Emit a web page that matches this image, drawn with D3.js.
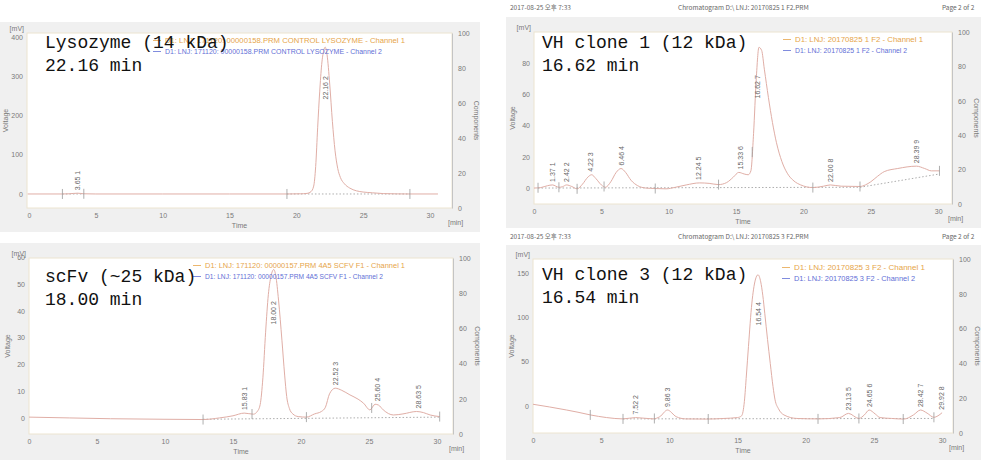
<!DOCTYPE html>
<html><head><meta charset="utf-8">
<script src="https://cdn.jsdelivr.net/npm/d3@7"></script>
<style>body{margin:0;background:#fff}svg{display:block}</style>
</head><body>
<svg id="c" width="987" height="460"></svg>
<script>
// ---------------- DATA ----------------
const timeTicks = [0, 5, 10, 15, 20, 25, 30];
const componentTicks = [0, 20, 40, 60, 80, 100];

// [time (min), voltage (mV)]
const lysozymeTrace = [[-0.1,0],[2.5,0],[3.0,0.5],[3.65,2],[4.1,0.5],[5,0],[10,0],[15,0],[19.3,0],[20.3,0.5],[20.8,1.5],[21.1,6],[21.3,20],[21.45,70],[21.6,170],[21.75,260],[21.9,330],[22.05,365],[22.16,374],[22.3,355],[22.5,280],[22.7,185],[22.9,110],[23.1,65],[23.3,42],[23.6,26],[24.0,15],[24.5,8],[25.0,5],[25.7,3],[26.5,1],[27.5,0.3],[28.5,0],[30.6,0]];
const vh1Trace = [[0,0],[0.5,0.3],[1.0,1.5],[1.37,2],[1.85,0.5],[2.1,0.8],[2.42,2],[2.8,1],[3.2,-0.5],[3.6,2.5],[4.0,7],[4.28,8.5],[4.6,6],[5.0,2],[5.3,0.5],[5.7,4],[6.1,10],[6.46,12.5],[6.8,10],[7.2,5],[7.7,1.5],[8.3,0],[9.0,-0.3],[9.8,-0.5],[10.5,0.5],[11.3,2],[12.3,3.3],[13.0,3],[13.7,2.2],[14.3,3.5],[14.8,7],[15.2,10],[15.6,9],[15.9,8.5],[16.1,11],[16.3,35],[16.5,70],[16.7,90],[16.9,88],[17.1,76],[17.4,58],[17.7,42],[18.0,29],[18.4,17],[18.8,9.5],[19.3,4.5],[19.8,2],[20.7,0.3],[21.5,1.2],[22.0,2],[22.8,1.2],[24.2,1],[24.6,2],[25.0,4],[25.5,7.5],[26.0,10.5],[27.0,12.5],[28.39,14],[29.0,12.5],[29.5,11],[30.1,11]];
const scfvTrace = [[0,0.3],[3,0],[6,-0.3],[10,-0.5],[12.8,-0.6],[14,0],[15,0.8],[15.83,1.8],[16.5,1.4],[16.8,2.5],[17.0,5],[17.2,15],[17.4,32],[17.6,46],[17.8,53],[18.0,55.4],[18.15,53],[18.35,44],[18.6,29],[18.8,16],[18.95,8],[19.15,3.5],[19.4,1.5],[19.8,0.5],[20.4,0.3],[21.0,1.5],[21.5,2.4],[21.8,4],[22.1,9],[22.52,11.1],[23.0,10.3],[23.6,8.6],[24.2,7],[24.6,5.5],[25.07,3],[25.45,5.1],[25.7,4.8],[26.05,3],[26.8,1.1],[27.5,1.5],[28.5,2.4],[29.0,2],[29.5,1.1],[30.2,0.5]];
const vh3Trace = [[0,2],[1.2,-1],[2.47,-4.5],[3.3,-7],[4.2,-10],[5.4,-13],[6.6,-14.5],[7.52,-13],[8.8,-14.5],[9.3,-12],[9.86,-4.5],[10.5,-12],[11.2,-14.5],[12.7,-14.7],[14.0,-14],[15.0,-13],[15.3,-11],[15.5,5],[15.65,35],[15.8,67],[16.05,116],[16.3,142],[16.5,148],[16.7,140],[16.85,125],[17.0,104],[17.2,75],[17.4,48],[17.6,22],[17.75,7],[18.0,-3],[18.4,-10],[19.35,-14],[20.9,-14.5],[22.5,-13],[23.13,-8.3],[23.9,-14],[24.3,-10],[24.65,-4.5],[25.1,-9],[25.45,-13],[26.3,-14],[27.2,-14.7],[27.9,-10],[28.42,-4.5],[28.9,-8],[29.4,-12.7],[29.7,-11],[30.0,-7.5]];

// peaks: [retention time, peak number]
const lysozymePeaks = [[3.65,1],[22.16,2]];
const vh1Peaks = [[1.37,1],[2.42,2],[4.22,3],[6.46,4],[12.24,5],[15.33,6],[16.62,7],[22.00,8],[28.39,9]];
const scfvPeaks = [[15.83,1],[18.00,2],[22.52,3],[25.60,4],[28.63,5]];
const vh3Peaks = [[7.52,2],[9.86,3],[16.54,4],[23.13,5],[24.65,6],[28.42,7],[29.92,8]];

// integration marks (min) and baselines
const lysozymeMarks = [2.5,4.1,19.3,28.5];
const vh1Marks = [0.3,1.85,3.2,5.2,9.0,13.7,16.2,20.7,24.2,30.1];
const scfvMarks = [12.8,16.4,20.4,25.2,30.2];
const vh3Marks = [4.2,6.6,8.9,12.85,20.9,23.9,27.15,29.4];
const lysozymeBaselines = [[[2.5,0],[4.1,0]],[[19.3,0],[28.5,0]]];
const vh1Baselines = [[[0.3,0],[24.2,0.5],[30.1,9]]];
const scfvBaselines = [[[12.8,-0.5],[30.2,0.3]]];
const vh3Baselines = [[[6.6,-14.5],[29.4,-14]]];

// tick labels of the voltage axes
const lysozymeVoltTicks = [0,100,200,300,400];
const vh1VoltTicks = [0,20,40,60,80];
const scfvVoltTicks = [0,10,20,30,40,50,60];
const vh3VoltTicks = [0,50,100,150];

// texts
const titles = [["Lysozyme (14 kDa)","22.16 min"],["VH clone 1 (12 kDa)","16.62 min"],["scFv (~25 kDa)","18.00 min"],["VH clone 3 (12 kDa)","16.54 min"]];
const legends = [
  ["D1:  LNJ:  171120:  00000158.PRM CONTROL LYSOZYME  -  Channel 1","D1: LNJ: 171120: 00000158.PRM CONTROL LYSOZYME - Channel 2"],
  ["D1:  LNJ:  20170825 1 F2  -  Channel 1","D1: LNJ: 20170825 1 F2 - Channel 2"],
  ["D1:  LNJ:  171120:  00000157.PRM 4A5 SCFV F1  -  Channel 1","D1: LNJ: 171120: 00000157.PRM 4A5 SCFV F1 - Channel 2"],
  ["D1:  LNJ:  20170825 3 F2  -  Channel 1","D1: LNJ: 20170825 3 F2 - Channel 2"]
];
const headers = [null,["2017-08-25 오후 7:33","Chromatogram D:\\ LNJ: 20170825 1 F2.PRM","Page 2 of 2"],null,["2017-08-25 오후 7:33","Chromatogram D:\\ LNJ: 20170825 3 F2.PRM","Page 2 of 2"]];

// ---------------- LAYOUT ----------------
const panels = [
  {trace:lysozymeTrace, peaks:lysozymePeaks, marks:lysozymeMarks, bases:lysozymeBaselines, vt:lysozymeVoltTicks,
   box:[0,22,480,232], plot:[27,452,33,208], xd:[-0.15,31.65], yd:[-35.7,410], title:[45,48], leg:[153,43,405,382]},
  {trace:vh1Trace, peaks:vh1Peaks, marks:vh1Marks, bases:vh1Baselines, vt:vh1VoltTicks,
   box:[506,17,981,228], plot:[534,952,32,204], xd:[0,31.03], yd:[-10.2,99.8], title:[542,48], leg:[783,42,923,907], head:[510,8,678,942]},
  {trace:scfvTrace, peaks:scfvPeaks, marks:scfvMarks, bases:scfvBaselines, vt:scfvVoltTicks,
   box:[0,243,480,460], plot:[29,453,258,434], xd:[0,31.18], yd:[-6,59.7], title:[45,282], leg:[193,268,405,383]},
  {trace:vh3Trace, peaks:vh3Peaks, marks:vh3Marks, bases:vh3Baselines, vt:vh3VoltTicks,
   box:[506,245,981,460], plot:[533,953,259,433], xd:[0,30.8], yd:[-30.4,165.8], title:[542,280], leg:[782,270,925,915], head:[510,237,678,942]}
];

const svg = d3.select('#c');
const sans = "'Liberation Sans', Arial, sans-serif";
const axisColor = '#7a7a7a';

function interp(trace, t) {
  const i = d3.bisector(d => d[0]).left(trace, t);
  if (i <= 0) return trace[0][1];
  if (i >= trace.length) return trace[trace.length-1][1];
  const a = trace[i-1], b = trace[i];
  return a[1] + (b[1]-a[1]) * (t-a[0])/(b[0]-a[0]);
}

panels.forEach((p, k) => {
  const g = svg.append('g');
  const [x0,x1,y0,y1] = p.plot;
  g.append('rect').attr('x',p.box[0]).attr('y',p.box[1]).attr('width',p.box[2]-p.box[0]).attr('height',p.box[3]-p.box[1]).attr('fill','#f0f0f0');
  g.append('rect').attr('x',x0).attr('y',y0).attr('width',x1-x0).attr('height',y1-y0).attr('fill','#fff').attr('stroke','#ece4d0').attr('stroke-width',1);

  const x = d3.scaleLinear().domain(p.xd).range([x0,x1]);
  const y = d3.scaleLinear().domain(p.yd).range([y1,y0]);
  const yr = d3.scaleLinear().domain([0,100]).range([y1,y0]);

  const styleAxis = sel => {
    sel.selectAll('text').attr('fill',axisColor).style('font-size','7px').style('font-family',sans);
    sel.attr('font-size',null).attr('font-family',null);
  };
  const gx = g.append('g').attr('transform',`translate(0,${y1})`)
    .call(d3.axisBottom(x).tickValues(timeTicks).tickSize(0).tickPadding(5));
  gx.select('.domain').remove(); styleAxis(gx);
  const gl = g.append('g').attr('transform',`translate(${x0},0)`)
    .call(d3.axisLeft(y).tickValues(p.vt).tickSize(0).tickPadding(4));
  gl.select('.domain').remove(); styleAxis(gl);
  const gr = g.append('g').attr('transform',`translate(${x1},0)`)
    .call(d3.axisRight(yr).tickValues(componentTicks).tickSizeOuter(0).tickSizeInner(0).tickPadding(6));
  gr.select('.domain').attr('stroke','#c4c4c4'); styleAxis(gr);

  // axis titles
  const lab = (tx, ty, s, rot, anchor) => g.append('text').attr('transform',`translate(${tx},${ty}) rotate(${rot||0})`)
      .attr('text-anchor',anchor||'middle').attr('fill',axisColor).style('font-size','7px').style('font-family',sans).text(s);
  lab((x0+x1)/2, y1+20, 'Time');
  lab(x1-4, y1+17, '[min]', 0, 'start');
  lab(x0-3, y0-2, '[mV]', 0, 'end');
  lab(x0-19, (y0+y1)/2, 'Voltage', -90);
  lab(x1+22, (y0+y1)/2, 'Components', 90);

  const clip = 'clip'+k;
  g.append('clipPath').attr('id',clip).append('rect').attr('x',x0).attr('y',y0).attr('width',x1-x0).attr('height',y1-y0);
  const pg = g.append('g').attr('clip-path',`url(#${clip})`);

  const line = d3.line().x(d=>x(d[0])).y(d=>y(d[1]));
  // integration baselines (dotted)
  p.bases.forEach(b => pg.append('path').attr('d',line(b)).attr('fill','none')
      .attr('stroke','#999').attr('stroke-width',0.8).attr('stroke-dasharray','1.5,2'));
  // trace
  pg.append('path').attr('d', line.curve(d3.curveMonotoneX)(p.trace)).attr('fill','none')
    .attr('stroke','#e0aea6').attr('stroke-width',1);
  // integration marks
  p.marks.forEach(t => {
    const v = y(interp(p.trace,t));
    pg.append('line').attr('x1',x(t)).attr('x2',x(t)).attr('y1',v-5).attr('y2',v+5).attr('stroke','#999').attr('stroke-width',0.8);
  });
  // peak labels
  p.peaks.forEach(([t,n]) => {
    const apex = d3.max(p.trace.filter(d => Math.abs(d[0]-t) <= 0.35), d => d[1]);
    const s = t.toFixed(2) + '   ' + n;
    const len = s.length * 3.5;
    let bottom = y(apex) - 3;
    if (bottom - len < y0 + 35) bottom = y0 + 35 + len;
    pg.append('text').attr('transform',`translate(${x(t)+2.5},${bottom}) rotate(-90)`)
      .attr('fill','#666').style('font-size','7px').style('font-family',sans).text(s);
  });

  // legend
  const [lx, ly, e1, e2] = p.leg;
  [[legends[k][0],'#e6a54a',e1],[legends[k][1],'#5f6fd6',e2]].forEach(([s,c,end],i) => {
    const yy = ly + i*11;
    g.append('line').attr('x1',lx).attr('x2',lx+8).attr('y1',yy-2.5).attr('y2',yy-2.5).attr('stroke',c).attr('stroke-width',0.8);
    g.append('text').attr('x',lx+12).attr('y',yy).attr('fill',c).style('font-size','7px').style('font-family',sans)
      .attr('textLength',end-lx-12).attr('lengthAdjust','spacingAndGlyphs').text(s);
  });

  // header
  if (p.head) {
    const h = headers[k];
    [[p.head[0],h[0]],[p.head[2],h[1]],[p.head[3],h[2]]].forEach(([hx,s]) =>
      g.append('text').attr('x',hx).attr('y',p.head[1]+2).attr('fill','#666')
        .style('font-size','6.5px').style('font-family',"'Noto Sans CJK KR', sans-serif").text(s));
  }

  // big annotation title
  titles[k].forEach((s,i) => g.append('text').attr('x',p.title[0]).attr('y',p.title[1]+i*22.5)
    .attr('fill','#111').style('font-size','18px').style('font-family',"'Courier New','Liberation Mono',monospace").text(s));
});
</script>
</body></html>
